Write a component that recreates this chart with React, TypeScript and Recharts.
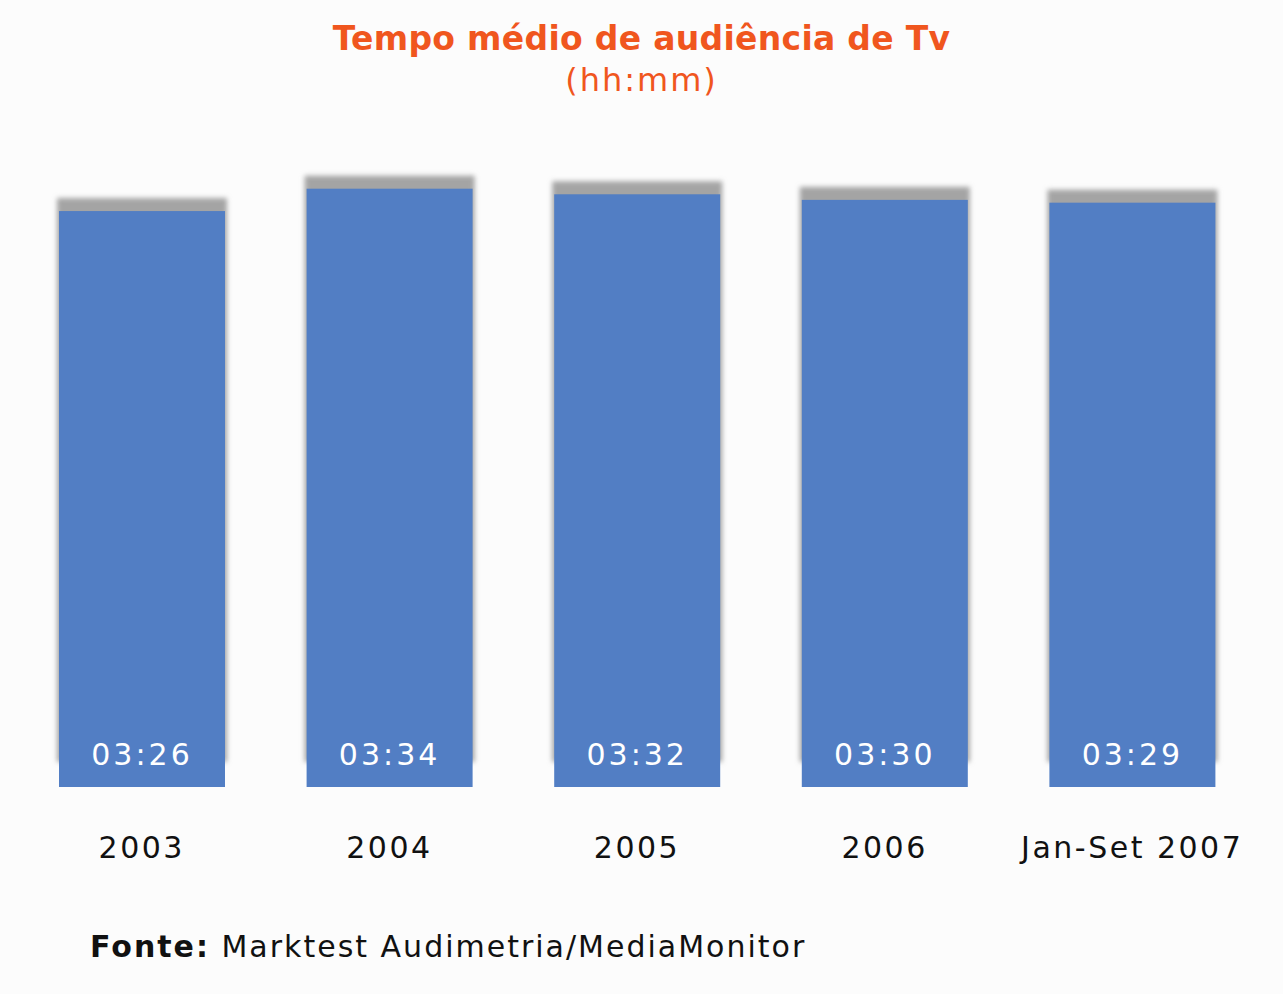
import { BarChart, Bar, XAxis, YAxis, LabelList } from 'recharts'

// Tempo médio de audiência de TV, minutos por dia (rótulos em hh:mm)
const periods = ['2003', '2004', '2005', '2006', 'Jan-Set 2007']
const minutes = [206, 214, 212, 210, 209]

const BLUE = '#527ec4'
const ORANGE = '#f0561e'
const FONT = '"DejaVu Sans", Verdana, sans-serif'

const data = periods.map((period, i) => ({ period, minutes: minutes[i] }))

const hhmm = (m: number) => `${String(Math.floor(m / 60)).padStart(2, '0')}:${String(m % 60).padStart(2, '0')}`

// bar with a soft grey shadow peeking out above and at the sides
function ShadowBar(props: any) {
  const { x, y, width, height } = props
  return (
    <g>
      <rect x={x - 2} y={y - 13} width={width + 4} height={height - 12} fill="#a4a4a4" filter="url(#barShadow)" />
      <rect x={x} y={y} width={width} height={height} fill={BLUE} />
    </g>
  )
}

function PeriodTick(props: any) {
  const { x, y, payload } = props
  return (
    <text x={x} y={y} dy={63} textAnchor="middle" fill="#111" fontSize={30} letterSpacing={2.5} fontFamily={FONT}>
      {payload.value}
    </text>
  )
}

export default function App() {
  return (
    <div style={{ position: 'absolute', left: 0, top: 0, width: 1283, height: 994, background: '#fcfcfc', fontFamily: FONT }}>
      <div style={{ position: 'absolute', left: 0, width: 1283, top: 19, textAlign: 'center', color: ORANGE, fontSize: 33, fontWeight: 'bold', letterSpacing: 0.3 }}>
        Tempo médio de audiência de Tv
      </div>
      <div style={{ position: 'absolute', left: 0, width: 1283, top: 61, textAlign: 'center', color: ORANGE, fontSize: 32, letterSpacing: 2 }}>
        (hh:mm)
      </div>
      <BarChart width={1283} height={994} data={data} margin={{ top: 116, right: 27, bottom: 147, left: 18 }} barSize={166}>
        <defs>
          <filter id="barShadow" x="-10%" y="-10%" width="120%" height="120%">
            <feGaussianBlur stdDeviation="2.5" />
          </filter>
        </defs>
        <XAxis dataKey="period" height={60} axisLine={false} tickLine={false} tick={<PeriodTick />} interval={0} />
        <YAxis hide domain={[0, 240]} />
        <Bar dataKey="minutes" shape={<ShadowBar />} isAnimationActive={false}>
          <LabelList
            dataKey="minutes"
            position="insideBottom"
            offset={22}
            formatter={(v: any) => hhmm(Number(v))}
            fill="#fff"
            fontSize={30}
            letterSpacing={3}
            fontFamily={FONT}
          />
        </Bar>
      </BarChart>
      <div style={{ position: 'absolute', left: 90, top: 929, color: '#111', fontSize: 30, letterSpacing: 2, whiteSpace: 'nowrap' }}>
        <b>Fonte:</b> Marktest Audimetria/MediaMonitor
      </div>
    </div>
  )
}
